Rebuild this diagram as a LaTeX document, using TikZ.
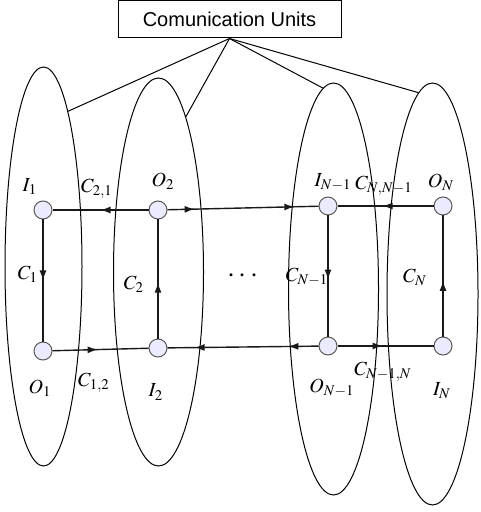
\documentclass[tikz,border=0pt]{standalone}
\usepackage{mathptmx}
\usepackage{fontspec}
\setsansfont{Liberation Sans}
\usetikzlibrary{arrows.meta,shapes.geometric,decorations.markings}

\tikzset{
  unit/.style={draw, ellipse, inner sep=0pt, line width=0.5pt},
  port/.style={circle, draw=black!65, fill=blue!8!white, minimum size=9pt, inner sep=0pt, line width=0.5pt},
  link/.style={line width=0.7pt, black!90},
  midarr/.style={postaction={decorate}, decoration={markings,
      mark=at position #1 with {\arrow{Latex[length=5pt,width=3.5pt]}}}},
  twoarr/.style 2 args={postaction={decorate}, decoration={markings,
      mark=at position #1 with {\arrow{Latex[length=5pt,width=3.5pt]}},
      mark=at position #2 with {\arrow{Latex[length=5pt,width=3.5pt]}}}},
}

\begin{document}
\begin{tikzpicture}[x=0.5pt,y=-0.5pt,>=Stealth]
\useasboundingbox (0,0) rectangle (480,512);

% === Units (ellipses) ===
\node[unit, minimum width=38.5pt, minimum height=199.5pt] (U1) at (43.5,266.5) {};
\node[unit, minimum width=45pt, minimum height=194pt] (U2) at (158.5,272) {};
\node[unit, minimum width=45pt, minimum height=206pt] (U3) at (333.5,289) {};
\node[unit, minimum width=45.5pt, minimum height=211pt] (U4) at (432.5,294) {};

% === Communication box ===
\node[draw, line width=0.5pt, font=\sffamily, minimum width=111.5pt, minimum height=18.5pt, inner sep=0pt]
  (cu) at (229.5,19.5) {Comunication Units};

\draw[line width=0.5pt] (cu.south) -- (U1.81);
\draw[line width=0.5pt] (cu.south) -- (U2.80.5);
\draw[line width=0.5pt] (cu.south) -- (U3.93);
\draw[line width=0.5pt] (cu.south) -- (U4.94.2);

% === Ports ===
\node[port] (I1) at (43,210) {};
\node[port] (O2) at (158,210) {};
\node[port] (IN1) at (328,206) {};
\node[port] (ON) at (443,206) {};
\node[port] (O1) at (43,351) {};
\node[port] (I2) at (158,348) {};
\node[port] (ON1) at (328,346) {};
\node[port] (IN) at (443,346) {};

% === Links ===
\draw[link, midarr=0.5] (O2) -- (I1);
\draw[link, twoarr={0.18}{0.84}] (O2) -- (IN1);
\draw[link, midarr=0.53] (ON) -- (IN1);
\draw[link, midarr=0.5] (I1) -- (O1);
\draw[link, midarr=0.47] (I2) -- (O2);
\draw[link, midarr=0.53] (IN1) -- (ON1);
\draw[link, midarr=0.46] (IN) -- (ON);
\draw[link, midarr=0.47] (O1) -- (I2);
\draw[link, twoarr={0.2}{0.82}] (ON1) -- (I2);
\draw[link, midarr=0.47] (ON1) -- (IN);

% === Labels ===
\node (lI1) at (30,187) {$I_1$};
\node (lC21) at (97,189) {$C_{2,1}$};
\node (lO2) at (163,181) {$O_2$};
\node (lIN1) at (333,182) {$I_{N-1}$};
\node (lCNN1) at (384,186) {$C_{N,N-1}$};
\node (lON) at (441,182) {$O_N$};
\node (lC1) at (28,274) {$C_1$};
\node (lC2) at (134,284) {$C_2$};
\node[font=\Large\bfseries] (dots) at (243,276) {$\cdots$};
\node (lCN1) at (307,277) {$C_{N-1}$};
\node (lCN) at (415,277) {$C_N$};
\node (lO1) at (40,388) {$O_1$};
\node (lC12) at (94,383) {$C_{1,2}$};
\node (lI2) at (156,392) {$I_2$};
\node (lON1) at (332,388) {$O_{N-1}$};
\node (lCN1N) at (383,372) {$C_{N-1,N}$};
\node (lIN) at (442,391) {$I_N$};
\end{tikzpicture}
\end{document}
